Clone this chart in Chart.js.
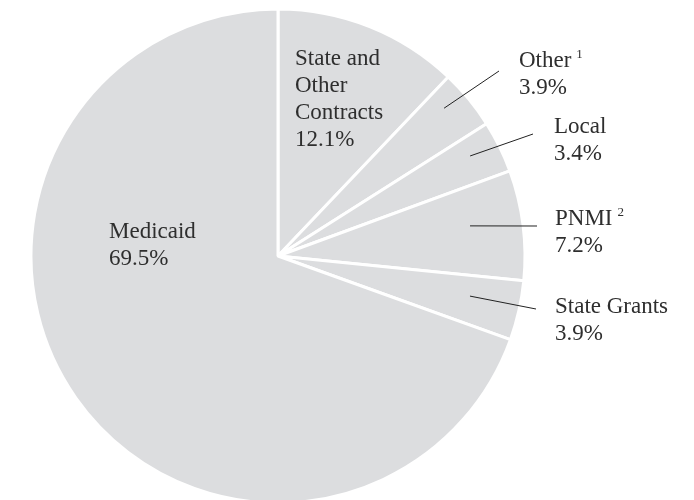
<!DOCTYPE html>
<html>
<head>
<meta charset="utf-8">
<script src="https://cdn.jsdelivr.net/npm/chart.js@4.4.1/dist/chart.umd.min.js"></script>
<style>
  html, body { margin: 0; padding: 0; background: #fff; }
  #wrap { width: 694px; height: 500px; }
</style>
</head>
<body>
<div id="wrap"><canvas id="revenuePie" width="694" height="500"></canvas></div>
<script>
// revenue sources pie - labels drawn by a small plugin (leader lines for the thin slices)
const categories = ['State and Other Contracts', 'Other', 'Local', 'PNMI', 'State Grants', 'Medicaid'];
const shares = [12.1, 3.9, 3.4, 7.2, 3.9, 69.5];
const nameLines = [['State and', 'Other', 'Contracts'], ['Other'], ['Local'], ['PNMI'], ['State Grants'], ['Medicaid']];
const footnotes = ['', '1', '', '2', '', ''];

// label placement, offsets from the pie centre (first baseline)
// lead = leader line end; leader starts inside the slice at (angle fraction `at`, radius fraction `from`)
const labelPos = [
  { dx: 17, dy: -191 },
  { dx: 241, dy: -189, lead: { dx: 221, dy: -185 }, at: 0.34, from: 0.9 },
  { dx: 276, dy: -123, lead: { dx: 255, dy: -122 }, at: 0.4, from: 0.877 },
  { dx: 277, dy: -31, lead: { dx: 259, dy: -30 }, at: 0.434, from: 0.787 },
  { dx: 277, dy: 57, lead: { dx: 258, dy: 53 }, at: 0.43, from: 0.794 },
  { dx: -169, dy: -18 },
];

const FONT = '"Liberation Serif", "Times New Roman", serif';
const TEXT = '#2e2e2e';

const pieLabels = {
  id: 'pieLabels',
  afterDatasetsDraw(chart) {
    const ctx = chart.ctx;
    const arcs = chart.getDatasetMeta(0).data;
    ctx.save();
    arcs.forEach((arc, i) => {
      const { x, y, startAngle, endAngle, outerRadius } = arc.getProps(['x', 'y', 'startAngle', 'endAngle', 'outerRadius'], true);
      const pos = labelPos[i];
      if (pos.lead) {
        const a = startAngle + (endAngle - startAngle) * pos.at;
        const r = outerRadius * pos.from;
        ctx.beginPath();
        ctx.strokeStyle = '#222';
        ctx.lineWidth = 1;
        ctx.moveTo(x + Math.cos(a) * r, y + Math.sin(a) * r);
        ctx.lineTo(x + pos.lead.dx, y + pos.lead.dy);
        ctx.stroke();
      }
      const lines = nameLines[i].concat([shares[i].toFixed(1) + '%']);
      ctx.fillStyle = TEXT;
      ctx.textAlign = 'left';
      ctx.textBaseline = 'alphabetic';
      lines.forEach((t, j) => {
        const ly = y + pos.dy + j * 27;
        ctx.font = '23px ' + FONT;
        ctx.fillText(t, x + pos.dx, ly);
        if (j === nameLines[i].length - 1 && footnotes[i]) {
          const w = ctx.measureText(t).width;
          ctx.font = '13px ' + FONT;
          ctx.fillText(footnotes[i], x + pos.dx + w + 5, ly - 9);
        }
      });
    });
    ctx.restore();
  }
};

new Chart(document.getElementById('revenuePie').getContext('2d'), {
  type: 'pie',
  data: {
    labels: categories,
    datasets: [{
      data: shares,
      backgroundColor: '#dcdddf',
      borderColor: '#ffffff',
      borderWidth: 3,
      radius: 247,
      hoverOffset: 0
    }]
  },
  options: {
    responsive: false,
    animation: false,
    layout: { padding: { left: 0, right: 138, top: 12, bottom: 0 } },
    plugins: {
      legend: { display: false },
      tooltip: { enabled: false }
    }
  },
  plugins: [pieLabels]
});
</script>
</body>
</html>
